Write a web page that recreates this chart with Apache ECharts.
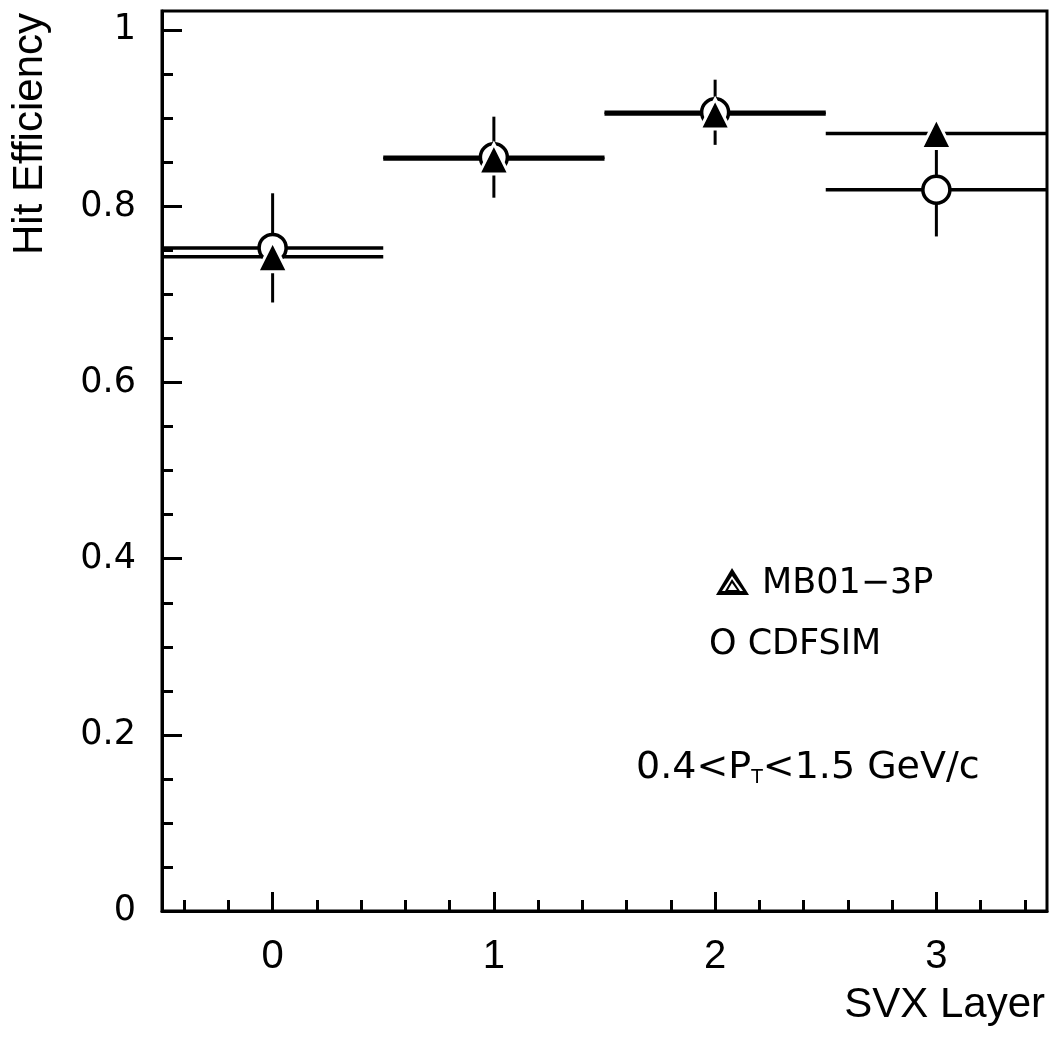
<!DOCTYPE html>
<html>
<head>
<meta charset="utf-8">
<script src="https://cdn.jsdelivr.net/npm/echarts@6/dist/echarts.min.js"></script>
<style>
html,body{margin:0;padding:0;background:#fff;}
#chart{width:1058px;height:1041px;}
</style>
</head>
<body>
<div id="chart"></div>
<script>
// ---- data ----
const layers = [0, 1, 2, 3];
const mbEff = [0.743, 0.854, 0.905, 0.883];
const mbErr = [0.012, 0.012, 0.012, 0.012];
const cdfEff = [0.753, 0.856, 0.907, 0.819];
const cdfErr = [0.062, 0.046, 0.037, 0.053];
const binHalfWidth = 0.5;

const xMajorTicks = [0, 1, 2, 3];
const xTickLabels = ['0', '1', '2', '3'];
const xMinorTicks = [-0.4, -0.2, 0.2, 0.4, 0.6, 0.8, 1.2, 1.4, 1.6, 1.8, 2.2, 2.4, 2.6, 2.8, 3.2, 3.4];
const yMajorTicks = [0, 0.2, 0.4, 0.6, 0.8, 1];
const yTickLabels = ['0', '0.2', '0.4', '0.6', '0.8', '1'];
const yMinorTicks = [0.05, 0.1, 0.15, 0.25, 0.3, 0.35, 0.45, 0.5, 0.55, 0.65, 0.7, 0.75, 0.85, 0.9, 0.95];

const mbData = layers.map((x, i) => [x, mbEff[i], mbErr[i]]);
const cdfData = layers.map((x, i) => [x, cdfEff[i], cdfErr[i]]);

function errRender(params, api) {
  const x = api.value(0), y = api.value(1), e = api.value(2);
  const pL = api.coord([x - binHalfWidth, y]);
  const pR = api.coord([x + binHalfWidth, y]);
  const pT = api.coord([x, y + e]);
  const pB = api.coord([x, y - e]);
  return {
    type: 'group',
    children: [
      { type: 'line', shape: { x1: pL[0], y1: pL[1], x2: pR[0], y2: pR[1] }, style: { stroke: '#000', lineWidth: 3.5 } },
      { type: 'line', shape: { x1: pT[0], y1: pT[1], x2: pB[0], y2: pB[1] }, style: { stroke: '#000', lineWidth: 3 } }
    ]
  };
}

const xMin = -0.5, xMax = 3.5, yMin = 0, yMax = 1.022;
const sans = 'Liberation Sans, Arial, sans-serif';
const wide = 'DejaVu Sans, Verdana, sans-serif';

const chart = echarts.init(document.getElementById('chart'), null, { renderer: 'canvas' });
chart.setOption({
  animation: false,
  backgroundColor: '#fff',
  grid: { left: 162, right: 11, top: 11, bottom: 130, show: true, borderColor: '#000', borderWidth: 3, backgroundColor: 'transparent' },
  xAxis: [
    {
      type: 'value', min: xMin, max: xMax,
      axisLine: { show: true, onZero: false, lineStyle: { color: '#000', width: 3 } },
      axisTick: { show: true, inside: true, length: 19, customValues: xMajorTicks, lineStyle: { color: '#000', width: 3 } },
      axisLabel: { show: true, customValues: xMajorTicks, margin: 26, color: '#000', fontFamily: sans, fontSize: 40,
        formatter: v => xTickLabels[xMajorTicks.indexOf(v)] },
      splitLine: { show: false }
    },
    {
      type: 'value', min: xMin, max: xMax, position: 'bottom',
      axisLine: { show: false, onZero: false },
      axisTick: { show: true, inside: true, length: 11, customValues: xMinorTicks, lineStyle: { color: '#000', width: 3 } },
      axisLabel: { show: false },
      splitLine: { show: false }
    }
  ],
  yAxis: [
    {
      type: 'value', min: yMin, max: yMax,
      axisLine: { show: true, onZero: false, lineStyle: { color: '#000', width: 3 } },
      axisTick: { show: true, inside: true, length: 20, customValues: yMajorTicks, lineStyle: { color: '#000', width: 3 } },
      axisLabel: { show: true, customValues: yMajorTicks, margin: 26, color: '#000', fontFamily: wide, fontSize: 35,
        formatter: v => yTickLabels[yMajorTicks.indexOf(v)] },
      splitLine: { show: false }
    },
    {
      type: 'value', min: yMin, max: yMax, position: 'left',
      axisLine: { show: false, onZero: false },
      axisTick: { show: true, inside: true, length: 11, customValues: yMinorTicks, lineStyle: { color: '#000', width: 3 } },
      axisLabel: { show: false },
      splitLine: { show: false }
    }
  ],
  series: [
    { name: 'CDFSIM bars', type: 'custom', renderItem: errRender, data: cdfData, z: 2, encode: { x: 0, y: 1 } },
    { name: 'MB01-3P bars', type: 'custom', renderItem: errRender, data: mbData, z: 2, encode: { x: 0, y: 1 } },
    { name: 'CDFSIM', type: 'scatter', data: cdfData.map(d => [d[0], d[1]]), symbol: 'circle', symbolSize: 27, z: 3,
      itemStyle: { color: '#fff', borderColor: '#000', borderWidth: 3.5, opacity: 1 } },
    { name: 'MB01-3P', type: 'scatter', data: mbData.map(d => [d[0], d[1]]), symbol: 'triangle', symbolSize: [30, 30], z: 4,
      itemStyle: { color: '#000', borderColor: '#fff', borderWidth: 3, opacity: 1 } }
  ],
  graphic: [
    { type: 'text', right: 13, top: 984, style: { text: 'SVX Layer', fill: '#000', font: '42px ' + sans } },
    { type: 'text', x: 9, y: 13, rotation: Math.PI / 2,
      style: { text: 'Hit Efficiency', fill: '#000', font: '42px ' + sans, textAlign: 'right', textVerticalAlign: 'top' } },
    // legend hatched triangle
    { type: 'polygon', shape: { points: [[732, 568], [716, 595], [749, 595]] }, style: { fill: '#000' } },
    { type: 'polygon', shape: { points: [[732, 576], [722, 591], [743, 591]] }, style: { fill: '#fff' } },
    { type: 'polygon', shape: { points: [[732, 579], [725, 591], [740, 591]] }, style: { fill: '#000' } },
    { type: 'polygon', shape: { points: [[732, 583], [728, 590], [737, 590]] }, style: { fill: '#fff' } },
    { type: 'text', x: 762, y: 566, style: { text: 'MB01−3P', fill: '#000', font: '35px ' + wide } },
    { type: 'text', x: 709, y: 627, style: { text: 'O CDFSIM', fill: '#000', font: '35px ' + wide } },
    { type: 'text', x: 636, y: 749, style: {
        text: '{a|0.4<P}{s|T}{a|<1.5 GeV/c}',
        rich: {
          a: { fontFamily: wide, fontSize: 38, fill: '#000', color: '#000' },
          s: { fontFamily: wide, fontSize: 19, fill: '#000', color: '#000', padding: [20, 0, 0, 0] }
        }
      } }
  ]
});
</script>
</body>
</html>
